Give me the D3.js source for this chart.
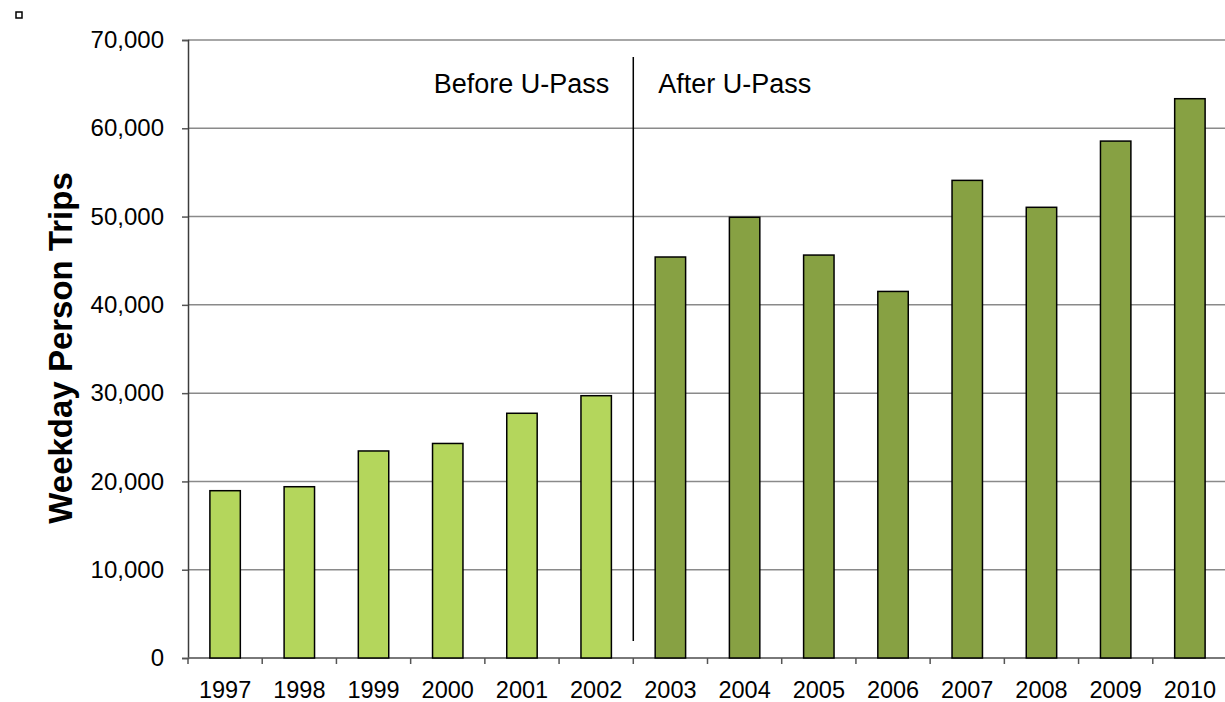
<!DOCTYPE html>
<html>
<head>
<meta charset="utf-8">
<script src="https://cdn.jsdelivr.net/npm/d3@7"></script>
<style>
  html, body { margin: 0; padding: 0; background: #ffffff; }
  svg { display: block; }
  text { font-family: "Liberation Sans", Arial, Helvetica, sans-serif; fill: #000; }
</style>
</head>
<body>
<svg id="chart" width="1225" height="702"></svg>
<script>
const years = ["1997","1998","1999","2000","2001","2002","2003","2004","2005","2006","2007","2008","2009","2010"];
const trips = [18950, 19400, 23450, 24300, 27720, 29710, 45420, 49920, 45640, 41520, 54100, 51050, 58550, 63350];
const periods = ["before","before","before","before","before","before","after","after","after","after","after","after","after","after"];
const yTicks = [0, 10000, 20000, 30000, 40000, 50000, 60000, 70000];
const periodLabels = ["Before U-Pass", "After U-Pass"];
const yTitle = "Weekday Person Trips";

const colors = { before: "#b4d65c", after: "#87a143" };

(function () {
const svg = d3.select("#chart");
const mLeft = 188, mRight = 1227, mTop = 40, mBottom = 658;

const x = d3.scaleBand().domain(years).range([mLeft, mRight]).paddingInner(0.59).paddingOuter(0.295);
const y = d3.scaleLinear().domain([0, 70000]).range([mBottom, mTop]);
const step = x.step();

// marker square top-left
svg.append("rect").attr("x", 16).attr("y", 12).attr("width", 6).attr("height", 6)
  .attr("fill", "none").attr("stroke", "#000").attr("stroke-width", 1.5);

// gridlines
svg.append("g").selectAll("line").data(yTicks).join("line")
  .attr("x1", mLeft).attr("x2", 1225)
  .attr("y1", d => y(d)).attr("y2", d => y(d))
  .attr("stroke", "#8a8a8a").attr("stroke-width", 1.5);

// y axis
const yAxis = svg.append("g").attr("transform", `translate(${mLeft},0)`)
  .call(d3.axisLeft(y).tickValues(yTicks).tickFormat(d3.format(",")).tickSize(6).tickPadding(18));
yAxis.select(".domain").attr("stroke", "#3c3c3c").attr("stroke-width", 1.5);
yAxis.selectAll(".tick line").attr("stroke", "#555").attr("stroke-width", 1.5);
yAxis.selectAll(".tick text").style("font-size", "24px").style("font-family", "'Liberation Sans', Arial, sans-serif").attr("fill", "#000");

// x axis line
svg.append("line").attr("x1", mLeft).attr("x2", 1225).attr("y1", mBottom).attr("y2", mBottom)
  .attr("stroke", "#6a6a6a").attr("stroke-width", 1.5);

// x ticks at band boundaries
const boundaries = years.map(d => x(d) + x.bandwidth() / 2 - step / 2).concat([x(years[years.length-1]) + x.bandwidth()/2 + step/2]);
svg.append("g").selectAll("line").data(boundaries).join("line")
  .attr("x1", d => d).attr("x2", d => d)
  .attr("y1", mBottom).attr("y2", mBottom + 6)
  .attr("stroke", "#555").attr("stroke-width", 1.5);

// x labels
svg.append("g").selectAll("text").data(years).join("text")
  .attr("x", d => x(d) + x.bandwidth() / 2)
  .attr("y", 698)
  .attr("text-anchor", "middle")
  .style("font-size", "23.5px")
  .text(d => d);

// bars
svg.append("g").selectAll("rect").data(years).join("rect")
  .attr("x", d => x(d))
  .attr("width", x.bandwidth())
  .attr("y", (d, i) => y(trips[i]))
  .attr("height", (d, i) => y(0) - y(trips[i]))
  .attr("fill", (d, i) => colors[periods[i]])
  .attr("stroke", "#000").attr("stroke-width", 1.5);

// divider
const divX = x("2003") + x.bandwidth() / 2 - step / 2;
svg.append("line").attr("x1", divX).attr("x2", divX).attr("y1", 57).attr("y2", 641)
  .attr("stroke", "#000").attr("stroke-width", 1.5);

svg.append("text").attr("x", divX - 24).attr("y", 93).attr("text-anchor", "end")
  .style("font-size", "27px").text(periodLabels[0]);
svg.append("text").attr("x", divX + 25).attr("y", 93).attr("text-anchor", "start")
  .style("font-size", "27px").text(periodLabels[1]);

// y title
svg.append("text").attr("transform", "translate(72,348) rotate(-90)")
  .attr("text-anchor", "middle")
  .style("font-size", "33px").style("font-weight", "bold")
  .text(yTitle);
})();
</script>
</body>
</html>
